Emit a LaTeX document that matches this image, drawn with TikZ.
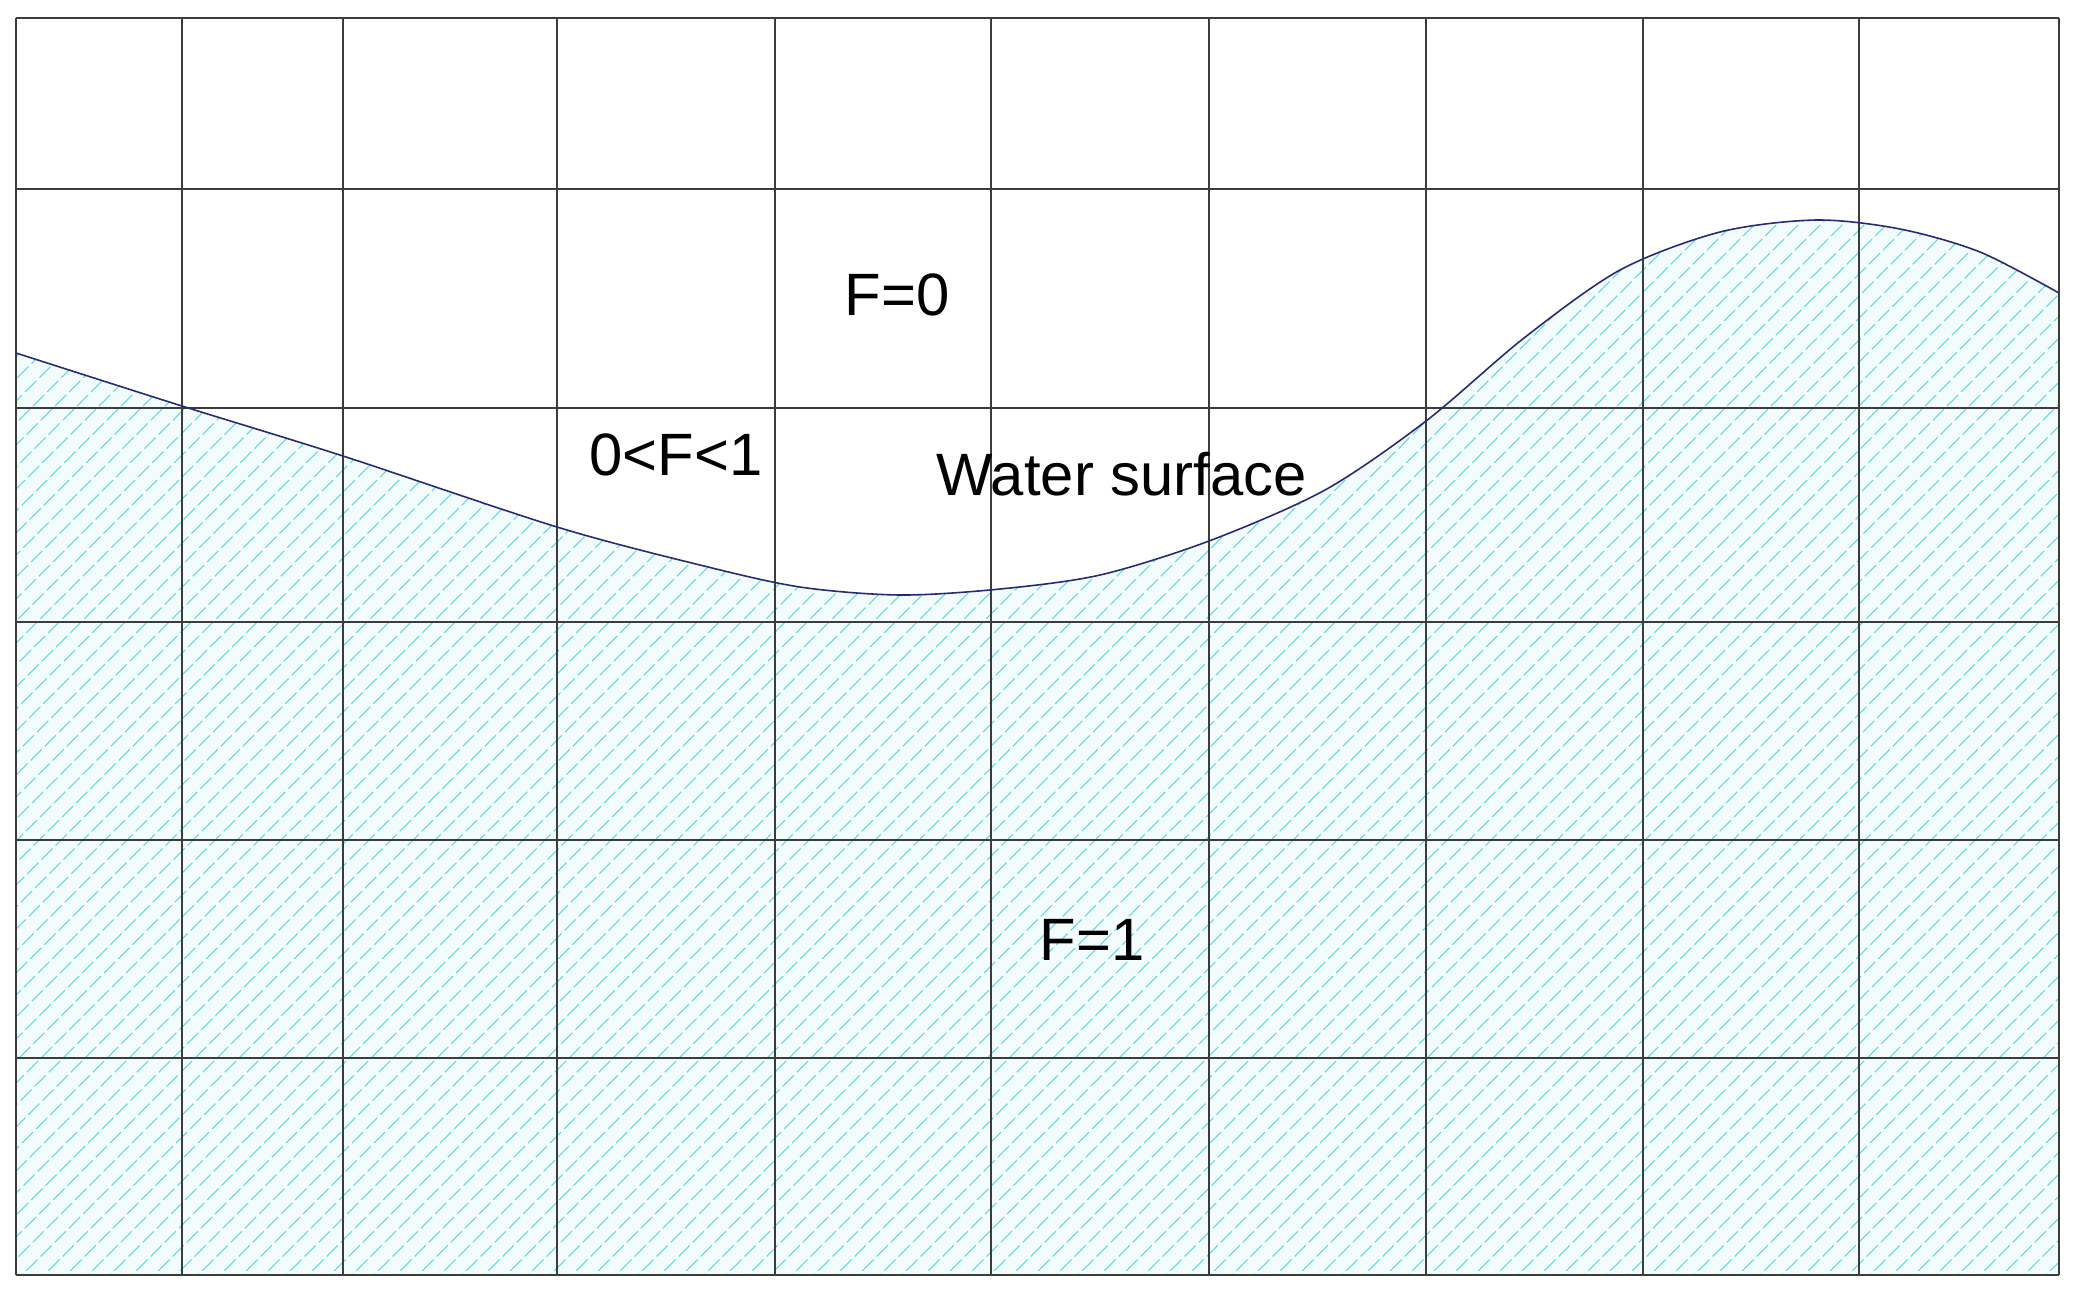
\documentclass[tikz,border=0pt]{standalone}
\usepackage{fontspec}
\setmainfont{Liberation Sans}
\definecolor{gridc}{RGB}{60,60,60}
\definecolor{hatchc}{RGB}{110,210,215}
\definecolor{waterfill}{RGB}{242,252,252}
\definecolor{surfc}{RGB}{40,40,120}
\begin{document}
\begin{tikzpicture}[x=0.01cm,y=-0.01cm,
  gridline/.style={draw=gridc,line width=0.55pt},
  hatchline/.style={draw=hatchc,line width=0.3pt,dash pattern=on 4.5pt off 1.2pt},
  surfline/.style={draw=surfc,line width=0.45pt},
  lbl/.style={inner sep=0pt,font=\fontsize{17}{20}\selectfont}]
\useasboundingbox (0,0) rectangle (2078,1299);
\def\surf{(16,353) (182,406) (343,456) (557,527) (700,565) (800,587) (900,595) (1000,589) (1100,575) (1209,541) (1325,490) (1426,421) (1524,338) (1620,270) (1720,232) (1816,220) (1900,229) (1980,252) (2059,293)}
% water fill
\fill[waterfill] plot[smooth] coordinates {\surf} -- (2059,1275) -- (16,1275) -- cycle;
% hatch
\begin{scope}
\clip plot[smooth] coordinates {\surf} -- (2059,1275) -- (16,1275) -- cycle;
\foreach \i in {-1300,-1278,...,2100} {
  \draw[hatchline] (\i,1299) -- ({\i+1299},0);
}
\end{scope}
% grid
\foreach \x in {16,182,343,557,775,991,1209,1426,1643,1859,2059} {
  \draw[gridline] (\x,18) -- (\x,1275);
}
\foreach \y in {18,189,408,622,840,1058,1275} {
  \draw[gridline] (16,\y) -- (2059,\y);
}
% surface
\draw[surfline] plot[smooth] coordinates {\surf};
% labels
\node[lbl] (f0) at (897,295) {F=0};
\node[lbl] (fmid) at (676,455) {0<F<1};
\node[lbl,anchor=south west] (ws) at (936,497) {Water surface};
\node[lbl] (f1) at (1092,940) {F=1};
\end{tikzpicture}
\end{document}
